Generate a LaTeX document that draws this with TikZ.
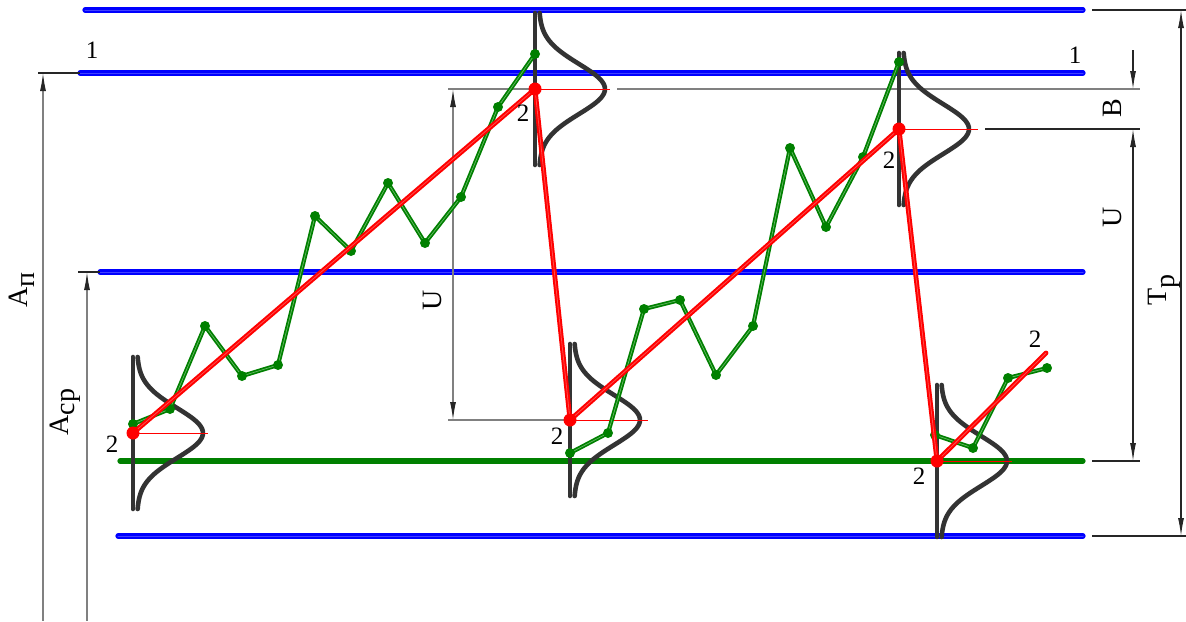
\documentclass[tikz,border=0pt]{standalone}
\usepackage{fontspec}
\setmainfont{Liberation Serif}
\usetikzlibrary{arrows.meta}

\begin{document}
\begin{tikzpicture}[
	x=0.5pt, y=-0.5pt,
	uroven/.style={draw=blue, line width=2.6pt, line cap=round,
		postaction={draw=blue!75!white, line width=0.5pt}},
	sredn/.style={draw=green!50!black, line width=2.6pt, line cap=round},
	pila/.style={draw=red, line width=2.4pt, line cap=round,
		postaction={draw=red!70!white, line width=0.4pt}},
	hod/.style={draw=green!50!black, line width=2.1pt, line join=round,
		postaction={draw=green!55!black!60!white, line width=0.35pt}},
	tochr/.style={circle, fill=red, inner sep=0pt, minimum size=6.5pt},
	tochz/.style={circle, fill=green!50!black, inner sep=0pt, minimum size=5pt},
	osj/.style={draw=black!80, line width=2.3pt, line cap=round},
	kriv/.style={draw=black!80, line width=2.3pt, line cap=round},
	centr/.style={draw=red, line width=0.5pt},
	vyn/.style={draw=black!85, line width=0.55pt},
	vyns/.style={draw=gray, line width=0.6pt},
	razm/.style={draw=black!85, line width=0.55pt},
	razms/.style={draw=gray, line width=0.6pt},
	tip/.style={{Latex[length=9pt,width=3pt,black!85]}-{Latex[length=9pt,width=3pt,black!85]}},
	nadp/.style={font=\rmfamily\fontsize{14}{16}\selectfont, inner sep=0pt},
	nomer/.style={font=\rmfamily\fontsize{12.5}{14}\selectfont, inner sep=0pt},
	]
	\useasboundingbox (0,0) rectangle (1186,621);
	
	% urovni
	\draw[uroven] (85,10) -- (1083,10);
	\draw[uroven] (80,73) -- (1083,73);
	\draw[uroven] (100,272) -- (1083,272);
	\draw[uroven] (118,536) -- (1083,536);
	\draw[sredn] (120,461) -- (1083,461);
	\node[nomer] (n1l) at (92,50) {1};
	\node[nomer] (n1r) at (1075,55) {1};
	
	% vynosnye linii
	\draw[vyn] (38,73) -- (80,73);
	\draw[vyn] (78,272) -- (100,272);
	\draw[vyns] (448,89) -- (535,89);
	\draw[vyns] (617,89) -- (1140,89);
	\draw[vyn] (985,129) -- (1140,129);
	\draw[vyns] (448,420) -- (570,420);
	\draw[vyn] (1092,10) -- (1186,10);
	\draw[vyn] (1092,461) -- (1140,461);
	\draw[vyn] (1092,536) -- (1186,536);
	
	% razmery
	\coordinate (ap1) at (43,73);
	\coordinate (ap2) at (43,621);
	\coordinate (ac1) at (87,272);
	\coordinate (ac2) at (87,621);
	\draw[razms, {Latex[length=9pt,width=3pt,black!85]}-] (ap1) -- (ap2);
	\draw[razms, {Latex[length=9pt,width=3pt,black!85]}-] (ac1) -- (ac2);
	\node[nadp, rotate=90] (lap) at (22,290) {A\raisebox{-3.5pt}{п}};
	\node[nadp, rotate=90] (lac) at (65,412) {A\raisebox{-3pt}{ср}};
	
	\coordinate (u1) at (453,89);
	\coordinate (u2) at (453,420);
	\draw[razms, tip] (u1) -- (u2);
	\node[nadp, rotate=90] (lu) at (432,300) {U};
	
	\coordinate (b0) at (1133,50);
	\coordinate (b1) at (1133,89);
	\coordinate (b2) at (1133,129);
	\coordinate (b3) at (1133,461);
	\draw[razm, -{Latex[length=9pt,width=3pt,black!85]}] (b0) -- (b1);
	\draw[razm, tip] (b2) -- (b3);
	\node[nadp, rotate=90] (lb) at (1112,108) {B};
	\node[nadp, rotate=90] (lur) at (1112,217) {U};
	
	\coordinate (t1) at (1181,10);
	\coordinate (t2) at (1181,536);
	\draw[razm, tip] (t1) -- (t2);
	\node[nadp, rotate=90] (lt) at (1164,290) {Т\raisebox{-4pt}{р}};
	
	% krivye raspredeleniya
	\foreach \xc/\yc in {133/433, 535/89, 570/420, 899/129, 937/461}{
		\draw[osj] (\xc,\yc-76) -- (\xc,\yc+76);
		\draw[kriv] plot[variable=\t, domain=-76:76, samples=50, smooth]
		({\xc+4+66*exp(-(\t/25)^2/2)}, {\yc+\t});
	}
	\draw[centr] (133,433) -- (208,433);
	\draw[centr] (535,89) -- (610,89);
	\draw[centr] (570,420) -- (648,420);
	\draw[centr] (899,129) -- (978,129);
	\draw[centr] (937,461) -- (1012,461);
	
	% hod processa
	\draw[hod] plot coordinates {(133,424) (170,409) (205,326) (242,376)
		(278,365) (315,216) (351,251) (388,183) (425,243) (461,197)
		(498,107) (535,54)};
	\draw[hod] plot coordinates {(570,453) (608,433) (644,309) (680,300)
		(716,375) (753,326) (790,148) (826,227) (863,157) (899,62)};
	\draw[hod] plot coordinates {(935,435) (973,448) (1008,378) (1047,368)};
	\foreach \p in {(133,424), (170,409), (205,326), (242,376), (278,365),
		(315,216), (351,251), (388,183), (425,243), (461,197), (498,107),
		(535,54), (570,453), (608,433), (644,309), (680,300), (716,375),
		(753,326), (790,148), (826,227), (863,157), (899,62), (935,435),
		(973,448), (1008,378), (1047,368)}
	\node[tochz] at \p {};
	
	% pila
	\coordinate (r1) at (133,433);
	\coordinate (r2) at (535,89);
	\coordinate (r3) at (570,420);
	\coordinate (r4) at (899,129);
	\coordinate (r5) at (937,461);
	\coordinate (r6) at (1046,353);
	\draw[pila] (r1) -- (r2) -- (r3) -- (r4) -- (r5) -- (r6);
	\foreach \r in {r1,r2,r3,r4,r5}
	\node[tochr] at (\r) {};
	\node[nomer] (n2a) at (112,444) {2};
	\node[nomer] (n2b) at (523,113) {2};
	\node[nomer] (n2c) at (557,436) {2};
	\node[nomer] (n2d) at (889,160) {2};
	\node[nomer] (n2e) at (919,476) {2};
	\node[nomer] (n2f) at (1035,339) {2};
	
\end{tikzpicture}
\end{document}
